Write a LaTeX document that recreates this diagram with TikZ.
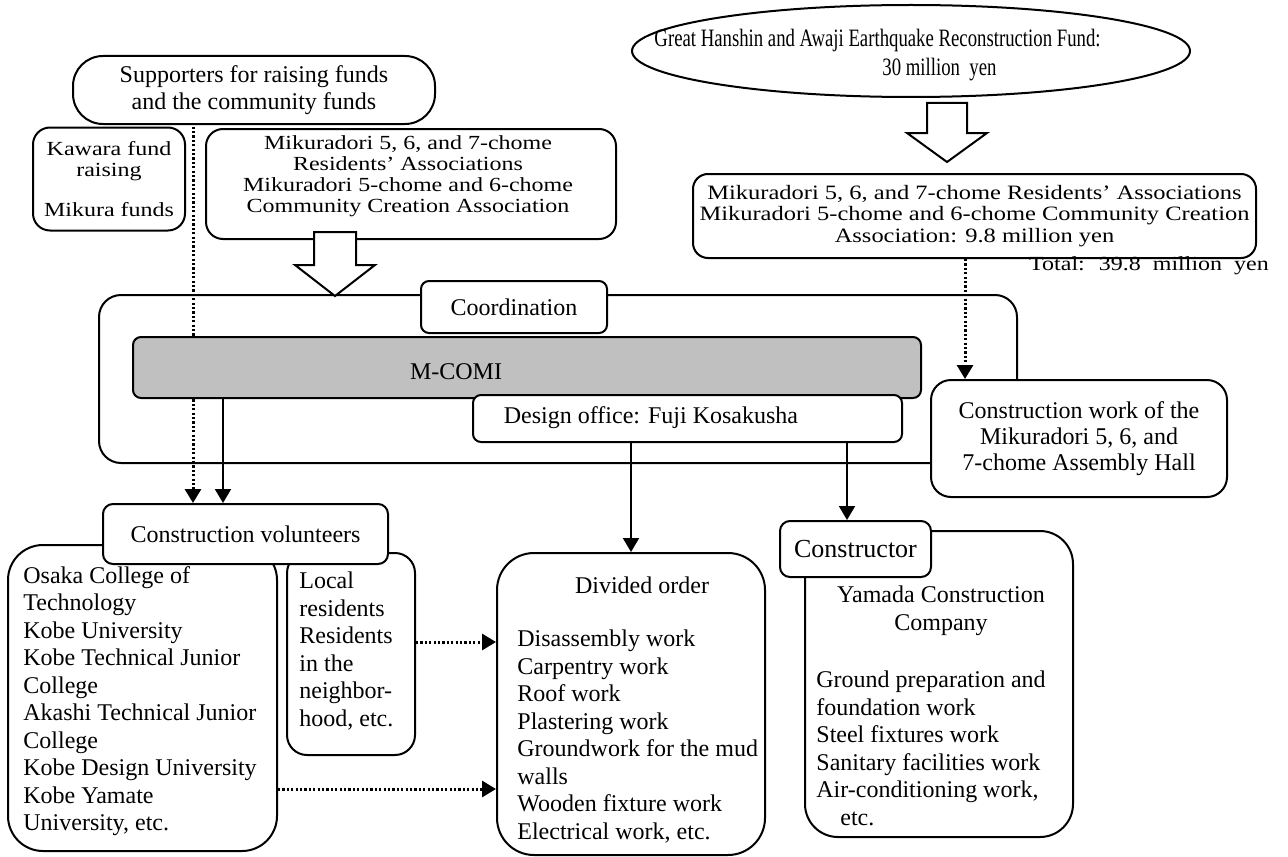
\documentclass[tikz,border=0pt]{standalone}
\usepackage{fontspec}
\setmainfont{Liberation Serif}
\newfontfamily\widefont{Liberation Serif}[FakeStretch=1.2]
\newfontfamily\narrowfont{Liberation Serif}[FakeStretch=0.75]
\usetikzlibrary{arrows.meta,shapes.geometric}
\definecolor{mcomigray}{RGB}{192,192,192}
\begin{document}
\begin{tikzpicture}[x=0.5pt,y=-0.5pt,
    box/.style={draw,fill=white,line width=1pt,rounded corners=#1,inner sep=0pt},
    box/.default=4pt,
    txt/.style={inner sep=0pt,align=left,font=\fontsize{12}{13.75}\selectfont},
    widetxt/.style={inner sep=0pt,align=center,font=\widefont\fontsize{10}{10.5}\selectfont},
    flow/.style={line width=1pt,-{Triangle[length=7pt,width=8pt]}},
    dotflow/.style={line width=1.5pt,dash pattern=on 1.1pt off 1.1pt,-{Triangle[length=7pt,width=8pt]}},
    hollow/.style={draw,fill=white,line width=1pt,line join=miter}]
    \useasboundingbox (0,0) rectangle (1288,856);
    \coordinate (xa) at (193,0); \coordinate (xb) at (223,0); \coordinate (xc) at (847,0); \coordinate (xd) at (965,0);
    \coordinate (ya) at (0,642); \coordinate (yb) at (0,789);
    \coordinate (tipL) at (335,296); \coordinate (tipR) at (947,162);

    \node[box=15pt,minimum width=181pt,minimum height=34pt,align=center,font=\fontsize{12}{13.5}\selectfont] (supp) at (254,90) {Supporters for raising funds\\and the community funds};
    \node[box=8.5pt,minimum width=76pt,minimum height=51.5pt,widetxt] (kawara) at (109,179) {Kawara fund\\raising\\[9.5pt]Mikura funds};
    \node[box=8.5pt,minimum width=205pt,minimum height=55pt] (mik1) at (411,184) {};
    \node[widetxt] (mik1t) at (408,176) {Mikuradori 5, 6, and 7-chome\\Residents’ Associations\\Mikuradori 5-chome and 6-chome\\Community Creation Association};

    \node[draw,ellipse,line width=1pt,inner sep=0pt,minimum width=279pt,minimum height=46pt] (quake) at (911,51) {};
    \node[inner sep=0pt,align=left,font=\narrowfont\fontsize{12.5}{14.5}\selectfont] (quaket) at (877.5,55) {Great Hanshin and Awaji Earthquake Reconstruction Fund:\\\hspace*{114pt}30 million~ yen};
    \node[box=7.5pt,minimum width=281.5pt,minimum height=42pt,widetxt,font=\widefont\fontsize{10.2}{10.75}\selectfont] (mik2) at (974.5,216) {Mikuradori 5, 6, and 7-chome Residents’ Associations\\Mikuradori 5-chome and 6-chome Community Creation\\Association: 9.8 million yen};
    \node[widetxt] (total) at (1149,266) {Total:~ 39.8~ million~ yen};

    \node[box=11pt,fill=none,minimum width=459pt,minimum height=84pt] (frame) at (558,379) {};

    \node[box=17.5pt,minimum width=134.5pt,minimum height=153pt] (univ) at (142.5,698) {};
    \node[txt,anchor=west] (univt) at (23,701) {Osaka College of\\Technology\\Kobe University\\Kobe Technical Junior\\College\\Akashi Technical Junior\\College\\Kobe Design University\\Kobe Yamate\\University, etc.};
    \node[box=10pt,minimum width=64pt,minimum height=101pt] (local) at (351,654) {};
    \node[txt,anchor=west] (localt) at (299,651) {Local\\residents\\Residents\\in the\\neighbor-\\hood, etc.};
    \node[box=5pt,minimum width=142.5pt,minimum height=30pt,txt] (volun) at (245.5,534) {Construction volunteers};

    \draw[dotflow] (kawara.north -| xa) -- (volun.north -| xa);

    \node[box=4pt,minimum width=93pt,minimum height=26pt,txt] (coord) at (514,307) {Coordination};
    \node[box=4pt,fill=mcomigray,minimum width=394pt,minimum height=30.5pt] (mcomi) at (527,367.5) {};
    \node[txt] (mcomit) at (456,372) {M-COMI};
    \node[box=4pt,minimum width=214.5pt,minimum height=23.5pt] (design) at (687.5,418.5) {};
    \node[txt] (designt) at (651,418) {Design office: Fuji Kosakusha};
    \node[box=10pt,minimum width=148pt,minimum height=58.5pt,txt,align=center,font=\fontsize{12}{13}\selectfont] (work) at (1079,438.5) {Construction work of the\\Mikuradori 5, 6, and\\7-chome Assembly Hall};

    \node[box=18.5pt,minimum width=134pt,minimum height=151pt] (divided) at (631,704) {};
    \node[txt] (dividedt) at (642,585) {Divided order};
    \node[txt,anchor=west] (dividedl) at (517,736.5) {Disassembly work\\Carpentry work\\Roof work\\Plastering work\\Groundwork for the mud\\walls\\Wooden fixture work\\Electrical work, etc.};
    \node[box=16.5pt,minimum width=134pt,minimum height=153pt] (yamada) at (939,684) {};
    \node[txt,align=center] (yamadat) at (941,611) {Yamada Construction\\Company};
    \node[txt,anchor=west] (yamadal) at (816,748.5) {Ground preparation and\\foundation work\\Steel fixtures work\\Sanitary facilities work\\Air-conditioning work,\\\hspace*{12pt}etc.};
    \node[box=5pt,minimum width=75.5pt,minimum height=28pt,inner sep=0pt,font=\fontsize{13}{15}\selectfont] (constr) at (855.5,549) {Constructor};

    \draw[flow] (mcomi.south -| xb) -- (volun.north -| xb);
    \draw[flow] (design.south -| divided.north) -- (divided.north);
    \draw[flow] (design.south -| xc) -- (constr.north -| xc);
    \draw[dotflow] (mik2.south -| xd) -- (work.north -| xd);
    \draw[dotflow] (local.east |- ya) -- (divided.west |- ya);
    \draw[dotflow] (univ.east |- yb) -- (divided.west |- yb);

    \draw[hollow] (tipL) -- ++(-40,-31) -- ++(19,0) -- ++(0,-33) -- ++(42,0) -- ++(0,33) -- ++(19,0) -- cycle;
    \draw[hollow] (tipR) -- ++(-40,-29) -- ++(20,0) -- ++(0,-30) -- ++(40,0) -- ++(0,30) -- ++(20,0) -- cycle;
\end{tikzpicture}
\end{document}
